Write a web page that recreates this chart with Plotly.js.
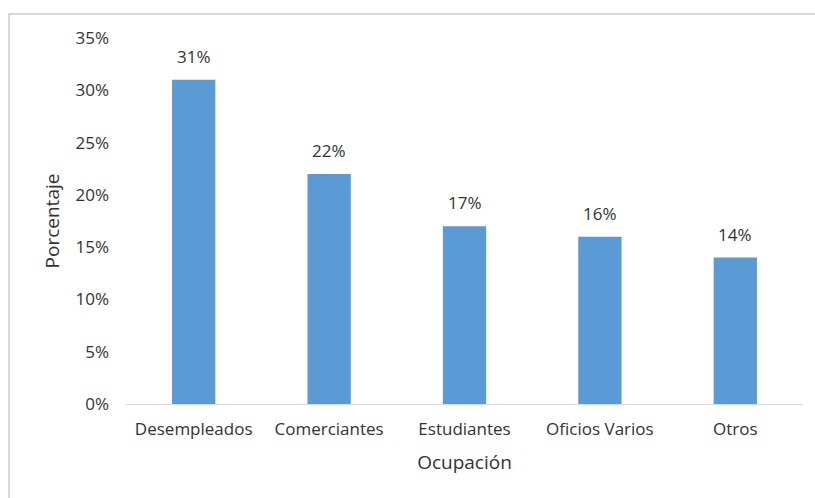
<!DOCTYPE html>
<html>
<head>
<meta charset="utf-8">
<script src="https://cdn.plot.ly/plotly-3.0.1.min.js"></script>
<style>
html,body{margin:0;padding:0;background:#fff;overflow:hidden;}
#frame{position:absolute;left:8px;top:13px;width:830px;height:520px;border:2px solid #d9d9d9;box-sizing:border-box;}
#chart{position:absolute;left:0;top:0;width:815px;height:498px;}
</style>
</head>
<body>
<div id="frame"></div>
<div id="chart"></div>
<script>
const categories = ["Desempleados", "Comerciantes", "Estudiantes", "Oficios Varios", "Otros"];
const values = [0.31, 0.22, 0.17, 0.16, 0.14];
const tickValues = [0, 0.05, 0.10, 0.15, 0.20, 0.25, 0.30, 0.35];
const tickLabels = ["0%", "5%", "10%", "15%", "20%", "25%", "30%", "35%"];
const labels = values.map(v => Math.round(v * 100) + "%");

const fontFam = "'Open Sans', 'Liberation Sans', sans-serif";
const textColor = "#333333";
const fs = 17;
const tfs = 19;

const trace = {
  type: "bar",
  x: categories,
  y: values,
  marker: {color: "#5b9bd5"},
  hoverinfo: "none"
};

const annotations = categories.map((c, i) => ({
  x: c, y: values[i], xref: "x", yref: "y",
  text: labels[i], showarrow: false,
  yanchor: "bottom", yshift: 10,
  font: {family: fontFam, size: fs, color: textColor}
}));

const layout = {
  width: 815, height: 498,
  margin: {l: 126, r: 12, t: 38, b: 94},
  paper_bgcolor: "rgba(0,0,0,0)",
  plot_bgcolor: "rgba(0,0,0,0)",
  bargap: 0.68,
  showlegend: false,
  font: {family: fontFam, size: fs, color: textColor},
  xaxis: {
    showline: true, linecolor: "#d9d9d9", linewidth: 1,
    ticks: "", showgrid: false, zeroline: false,
    ticklabelstandoff: 10,
    tickfont: {family: fontFam, size: fs, color: textColor},
    title: {text: "Ocupación", font: {family: fontFam, size: tfs, color: textColor}, standoff: 16}
  },
  yaxis: {
    range: [0, 0.35],
    tickvals: tickValues, ticktext: tickLabels,
    showgrid: false, zeroline: false, showline: false, ticks: "",
    ticklabelstandoff: 16,
    tickfont: {family: fontFam, size: fs, color: textColor},
    title: {text: "Porcentaje", font: {family: fontFam, size: tfs, color: textColor}, standoff: 10}
  },
  annotations: annotations
};

Plotly.newPlot("chart", [trace], layout, {displayModeBar: false, staticPlot: true});
</script>
</body>
</html>
